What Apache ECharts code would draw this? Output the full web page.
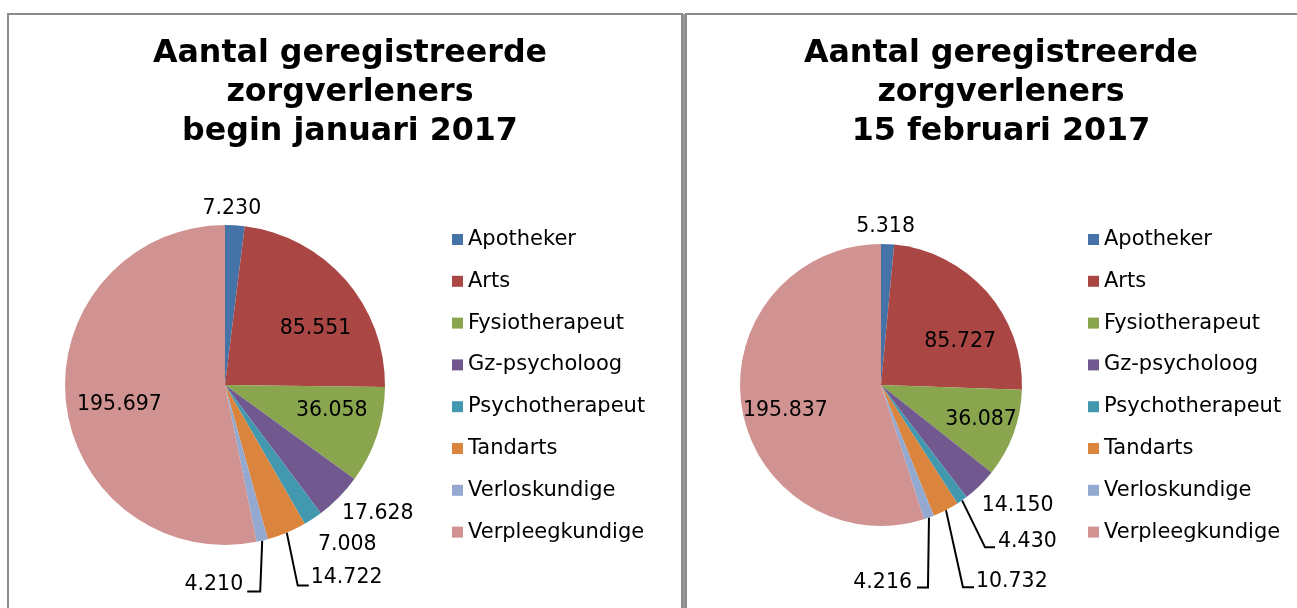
<!DOCTYPE html>
<html>
<head>
<meta charset="utf-8">
<script src="https://cdn.jsdelivr.net/npm/echarts@6/dist/echarts.min.js"></script>
<style>
html,body{margin:0;padding:0;background:#fff;}
#c{width:1297px;height:608px;}
</style>
</head>
<body>
<div id="c"></div>
<script>
// ---- data ----
const categories = ['Apotheker','Arts','Fysiotherapeut','Gz-psycholoog','Psychotherapeut','Tandarts','Verloskundige','Verpleegkundige'];
const janValues = [7230, 85551, 36058, 17628, 7008, 14722, 4210, 195697];
const febValues = [5318, 85727, 36087, 14150, 4430, 10732, 4216, 195837];
const titleJan = 'Aantal geregistreerde\nzorgverleners\nbegin januari 2017';
const titleFeb = 'Aantal geregistreerde\nzorgverleners\n15 februari 2017';
const palette = ['#4572A7','#AA4643','#89A54E','#71588F','#4198AF','#DB843D','#93A9CF','#D19392'];

// ---- label styling (offsets relative to library-computed label anchors) ----
const insideIdx = [1, 2, 7];
const labelCfg = [
  { // January pie
    0: {align:'center', t:[-3,-17]},
    3: {align:'left', t:[3,16]},
    4: {align:'left', t:[5,26]},
    5: {align:'left', t:[24,45], line:[[11,53],[22,53]]},
    6: {align:'right', t:[-19,44], line:[[-2,51],[-15,51]]},
    1: {dx:28, dy:-2}, 2: {dx:28, dy:0}, 7: {dx:-23, dy:11}
  },
  { // February pie
    0: {align:'center', t:[-2,-17]},
    3: {align:'left', t:[2,20]},
    4: {align:'left', t:[36,41], line:[[23,47],[33,47]]},
    5: {align:'left', t:[30,72], line:[[17,77],[28,77]]},
    6: {align:'right', t:[-17,65], line:[[-1,70],[-12,70]]},
    1: {dx:24, dy:5}, 2: {dx:31, dy:9}, 7: {dx:-23, dy:14}
  }
];

function fmt(v){ return String(v).replace(/\B(?=(\d{3})+(?!\d))/g, '.'); }

function buildData(values){
  return categories.map(function(name, i){
    const item = {name: name, value: values[i]};
    if (insideIdx.indexOf(i) >= 0) {
      item.label = {position: 'inside'};
      item.labelLine = {show: false};
    }
    return item;
  });
}

function layoutFn(params){
  const cfg = labelCfg[params.seriesIndex][params.dataIndex];
  if (!cfg) return {};
  if (cfg.dx !== undefined) return {dx: cfg.dx, dy: cfg.dy};
  const pts = params.labelLinePoints;
  if (!pts) return {};
  const p0 = pts[0];
  const res = {
    x: p0[0] + cfg.t[0],
    y: p0[1] + cfg.t[1],
    align: cfg.align,
    verticalAlign: 'middle'
  };
  if (cfg.line) {
    res.labelLinePoints = [p0,
      [p0[0] + cfg.line[0][0], p0[1] + cfg.line[0][1]],
      [p0[0] + cfg.line[1][0], p0[1] + cfg.line[1][1]]];
  } else {
    res.labelLinePoints = [p0, p0, p0];
  }
  return res;
}

const labelFont = {fontFamily: 'DejaVu Sans', fontSize: 20.5, color: '#000'};

function pieSeries(values, center, radius){
  return {
    type: 'pie',
    center: center,
    radius: radius,
    startAngle: 90,
    clockwise: true,
    avoidLabelOverlap: false,
    animation: false,
    silent: true,
    itemStyle: {borderWidth: 0},
    label: Object.assign({show: true, position: 'outside', formatter: function(p){ return fmt(p.value); }}, labelFont),
    labelLine: {show: true, length: 10, length2: 10, smooth: false, lineStyle: {color: '#000', width: 2}},
    labelLayout: layoutFn,
    emphasis: {disabled: true},
    data: buildData(values)
  };
}

const titleStyle = {fontFamily: 'DejaVu Sans', fontSize: 31.7, fontWeight: 'bold', color: '#000', lineHeight: 39};
const legendBase = {
  orient: 'vertical', top: 224, icon: 'rect', itemWidth: 11, itemHeight: 11, itemGap: 20.8,
  selectedMode: false,
  textStyle: {fontFamily: 'DejaVu Sans', fontSize: 21, color: '#000', lineHeight: 21},
  data: categories
};

const chart = echarts.init(document.getElementById('c'), null, {renderer: 'canvas'});
chart.setOption({
  animation: false,
  color: palette,
  backgroundColor: '#fff',
  title: [
    {text: titleJan, left: 345, top: 29.5, textAlign: 'center', textStyle: titleStyle},
    {text: titleFeb, left: 996, top: 29.5, textAlign: 'center', textStyle: titleStyle}
  ],
  legend: [
    Object.assign({left: 447}, legendBase),
    Object.assign({left: 1083}, legendBase)
  ],
  graphic: [
    {type: 'rect', shape: {x: 8, y: 14, width: 674, height: 700}, style: {fill: 'none', stroke: '#8c8c8c', lineWidth: 2}, silent: true, z: -1},
    {type: 'rect', shape: {x: 686, y: 14, width: 700, height: 700}, style: {fill: 'none', stroke: '#8c8c8c', lineWidth: 2}, silent: true, z: -1},
    {type: 'rect', shape: {x: 683, y: 14, width: 2, height: 700}, style: {fill: '#999999'}, silent: true, z: -1}
  ],
  series: [
    pieSeries(janValues, [225, 385], 160),
    pieSeries(febValues, [881, 385], 141)
  ]
});
</script>
</body>
</html>
